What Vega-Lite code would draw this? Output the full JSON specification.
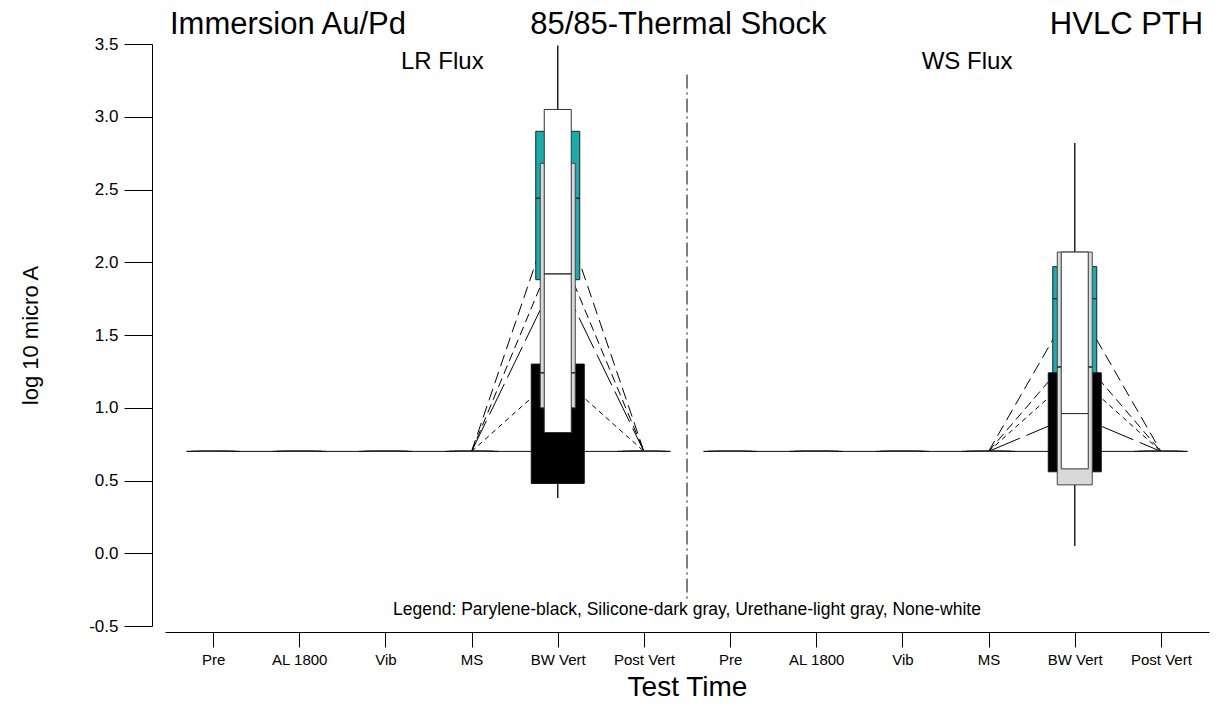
{
  "$schema": "https://vega.github.io/schema/vega-lite/v6.json",
  "width": 1044,
  "height": 582,
  "autosize": {"type": "none"},
  "padding": {"left": 165, "top": 44, "right": 8, "bottom": 89},
  "background": "white",
  "config": {
    "font": "Liberation Sans",
    "view": {"stroke": null},
    "axis": {"grid": false, "domainColor": "black", "tickColor": "black", "labelColor": "black", "titleColor": "black", "titleFontWeight": "normal", "labelFont": "Liberation Sans", "titleFont": "Liberation Sans"}
  },
  "datasets": {
    "boxes": [
      {"t": 1, "coat": "Parylene", "q1": 0.7, "med": 0.7, "q3": 0.7, "lo": 0.7, "hi": 0.7},
      {"t": 1, "coat": "Silicone", "q1": 0.7, "med": 0.7, "q3": 0.7, "lo": 0.7, "hi": 0.7},
      {"t": 1, "coat": "Urethane", "q1": 0.7, "med": 0.7, "q3": 0.7, "lo": 0.7, "hi": 0.7},
      {"t": 1, "coat": "None", "q1": 0.7, "med": 0.7, "q3": 0.7, "lo": 0.7, "hi": 0.7},
      {"t": 2, "coat": "Parylene", "q1": 0.7, "med": 0.7, "q3": 0.7, "lo": 0.7, "hi": 0.7},
      {"t": 2, "coat": "Silicone", "q1": 0.7, "med": 0.7, "q3": 0.7, "lo": 0.7, "hi": 0.7},
      {"t": 2, "coat": "Urethane", "q1": 0.7, "med": 0.7, "q3": 0.7, "lo": 0.7, "hi": 0.7},
      {"t": 2, "coat": "None", "q1": 0.7, "med": 0.7, "q3": 0.7, "lo": 0.7, "hi": 0.7},
      {"t": 3, "coat": "Parylene", "q1": 0.7, "med": 0.7, "q3": 0.7, "lo": 0.7, "hi": 0.7},
      {"t": 3, "coat": "Silicone", "q1": 0.7, "med": 0.7, "q3": 0.7, "lo": 0.7, "hi": 0.7},
      {"t": 3, "coat": "Urethane", "q1": 0.7, "med": 0.7, "q3": 0.7, "lo": 0.7, "hi": 0.7},
      {"t": 3, "coat": "None", "q1": 0.7, "med": 0.7, "q3": 0.7, "lo": 0.7, "hi": 0.7},
      {"t": 4, "coat": "Parylene", "q1": 0.7, "med": 0.7, "q3": 0.7, "lo": 0.7, "hi": 0.7},
      {"t": 4, "coat": "Silicone", "q1": 0.7, "med": 0.7, "q3": 0.7, "lo": 0.7, "hi": 0.7},
      {"t": 4, "coat": "Urethane", "q1": 0.7, "med": 0.7, "q3": 0.7, "lo": 0.7, "hi": 0.7},
      {"t": 4, "coat": "None", "q1": 0.7, "med": 0.7, "q3": 0.7, "lo": 0.7, "hi": 0.7},
      {"t": 5, "coat": "Parylene", "q1": 0.48, "med": 0.7, "q3": 1.30, "lo": 0.38, "hi": 1.30},
      {"t": 5, "coat": "Silicone", "q1": 1.88, "med": 2.44, "q3": 2.90, "lo": 1.88, "hi": 2.90},
      {"t": 5, "coat": "Urethane", "q1": 1.00, "med": 1.24, "q3": 2.68, "lo": 1.00, "hi": 2.68},
      {"t": 5, "coat": "None", "q1": 0.83, "med": 1.92, "q3": 3.05, "lo": 0.83, "hi": 3.49},
      {"t": 6, "coat": "Parylene", "q1": 0.7, "med": 0.7, "q3": 0.7, "lo": 0.7, "hi": 0.7},
      {"t": 6, "coat": "Silicone", "q1": 0.7, "med": 0.7, "q3": 0.7, "lo": 0.7, "hi": 0.7},
      {"t": 6, "coat": "Urethane", "q1": 0.7, "med": 0.7, "q3": 0.7, "lo": 0.7, "hi": 0.7},
      {"t": 6, "coat": "None", "q1": 0.7, "med": 0.7, "q3": 0.7, "lo": 0.7, "hi": 0.7},
      {"t": 7, "coat": "Parylene", "q1": 0.7, "med": 0.7, "q3": 0.7, "lo": 0.7, "hi": 0.7},
      {"t": 7, "coat": "Silicone", "q1": 0.7, "med": 0.7, "q3": 0.7, "lo": 0.7, "hi": 0.7},
      {"t": 7, "coat": "Urethane", "q1": 0.7, "med": 0.7, "q3": 0.7, "lo": 0.7, "hi": 0.7},
      {"t": 7, "coat": "None", "q1": 0.7, "med": 0.7, "q3": 0.7, "lo": 0.7, "hi": 0.7},
      {"t": 8, "coat": "Parylene", "q1": 0.7, "med": 0.7, "q3": 0.7, "lo": 0.7, "hi": 0.7},
      {"t": 8, "coat": "Silicone", "q1": 0.7, "med": 0.7, "q3": 0.7, "lo": 0.7, "hi": 0.7},
      {"t": 8, "coat": "Urethane", "q1": 0.7, "med": 0.7, "q3": 0.7, "lo": 0.7, "hi": 0.7},
      {"t": 8, "coat": "None", "q1": 0.7, "med": 0.7, "q3": 0.7, "lo": 0.7, "hi": 0.7},
      {"t": 9, "coat": "Parylene", "q1": 0.7, "med": 0.7, "q3": 0.7, "lo": 0.7, "hi": 0.7},
      {"t": 9, "coat": "Silicone", "q1": 0.7, "med": 0.7, "q3": 0.7, "lo": 0.7, "hi": 0.7},
      {"t": 9, "coat": "Urethane", "q1": 0.7, "med": 0.7, "q3": 0.7, "lo": 0.7, "hi": 0.7},
      {"t": 9, "coat": "None", "q1": 0.7, "med": 0.7, "q3": 0.7, "lo": 0.7, "hi": 0.7},
      {"t": 10, "coat": "Parylene", "q1": 0.7, "med": 0.7, "q3": 0.7, "lo": 0.7, "hi": 0.7},
      {"t": 10, "coat": "Silicone", "q1": 0.7, "med": 0.7, "q3": 0.7, "lo": 0.7, "hi": 0.7},
      {"t": 10, "coat": "Urethane", "q1": 0.7, "med": 0.7, "q3": 0.7, "lo": 0.7, "hi": 0.7},
      {"t": 10, "coat": "None", "q1": 0.7, "med": 0.7, "q3": 0.7, "lo": 0.7, "hi": 0.7},
      {"t": 11, "coat": "Parylene", "q1": 0.56, "med": 0.7, "q3": 1.24, "lo": 0.56, "hi": 1.24},
      {"t": 11, "coat": "Silicone", "q1": 1.15, "med": 1.75, "q3": 1.97, "lo": 1.15, "hi": 1.97},
      {"t": 11, "coat": "Urethane", "q1": 0.47, "med": 1.28, "q3": 2.07, "lo": 0.05, "hi": 2.07},
      {"t": 11, "coat": "None", "q1": 0.58, "med": 0.96, "q3": 2.07, "lo": 0.58, "hi": 2.82},
      {"t": 12, "coat": "Parylene", "q1": 0.7, "med": 0.7, "q3": 0.7, "lo": 0.7, "hi": 0.7},
      {"t": 12, "coat": "Silicone", "q1": 0.7, "med": 0.7, "q3": 0.7, "lo": 0.7, "hi": 0.7},
      {"t": 12, "coat": "Urethane", "q1": 0.7, "med": 0.7, "q3": 0.7, "lo": 0.7, "hi": 0.7},
      {"t": 12, "coat": "None", "q1": 0.7, "med": 0.7, "q3": 0.7, "lo": 0.7, "hi": 0.7}
    ],
    "lines": [
      {"t": 1, "panel": "LR", "series": "Parylene", "v": 0.7},
      {"t": 6, "panel": "LR", "series": "Parylene", "v": 0.7},
      {"t": 7, "panel": "WS", "series": "Parylene", "v": 0.7},
      {"t": 12, "panel": "WS", "series": "Parylene", "v": 0.7},
      {"t": 4, "panel": "LR", "series": "Silicone", "v": 0.7},
      {"t": 5, "panel": "LR", "series": "Silicone", "v": 2.44},
      {"t": 6, "panel": "LR", "series": "Silicone", "v": 0.7},
      {"t": 10, "panel": "WS", "series": "Silicone", "v": 0.7},
      {"t": 11, "panel": "WS", "series": "Silicone", "v": 1.73},
      {"t": 12, "panel": "WS", "series": "Silicone", "v": 0.7},
      {"t": 4, "panel": "LR", "series": "None mean", "v": 0.7},
      {"t": 5, "panel": "LR", "series": "None mean", "v": 2.12},
      {"t": 6, "panel": "LR", "series": "None mean", "v": 0.7},
      {"t": 10, "panel": "WS", "series": "None mean", "v": 0.7},
      {"t": 11, "panel": "WS", "series": "None mean", "v": 1.39},
      {"t": 12, "panel": "WS", "series": "None mean", "v": 0.7},
      {"t": 4, "panel": "LR", "series": "None", "v": 0.7},
      {"t": 5, "panel": "LR", "series": "None", "v": 1.92},
      {"t": 6, "panel": "LR", "series": "None", "v": 0.7},
      {"t": 10, "panel": "WS", "series": "None", "v": 0.7},
      {"t": 11, "panel": "WS", "series": "None", "v": 0.95},
      {"t": 12, "panel": "WS", "series": "None", "v": 0.7},
      {"t": 4, "panel": "LR", "series": "Urethane", "v": 0.7},
      {"t": 5, "panel": "LR", "series": "Urethane", "v": 1.23},
      {"t": 6, "panel": "LR", "series": "Urethane", "v": 0.7},
      {"t": 10, "panel": "WS", "series": "Urethane", "v": 0.7},
      {"t": 11, "panel": "WS", "series": "Urethane", "v": 1.23},
      {"t": 12, "panel": "WS", "series": "Urethane", "v": 0.7}
    ],
    "notes": [
      {"x": 0.5, "y": 3.57, "text": "Immersion Au/Pd", "kind": "big-left"},
      {"x": 6.4, "y": 3.57, "text": "85/85-Thermal Shock", "kind": "big-center"},
      {"x": 12.49, "y": 3.57, "text": "HVLC PTH", "kind": "big-right"},
      {"x": 3.66, "y": 3.33, "text": "LR Flux", "kind": "mid"},
      {"x": 9.75, "y": 3.33, "text": "WS Flux", "kind": "mid"},
      {"x": 6.5, "y": -0.39, "text": "Legend: Parylene-black, Silicone-dark gray, Urethane-light gray, None-white", "kind": "small"}
    ],
    "sep": [{"x": 6.5, "y": 3.29, "y2": -0.32}]
  },
  "encoding": {
    "x": {"field": "t", "type": "quantitative", "scale": {"domain": [0.5, 12.5], "nice": false, "zero": false},
      "axis": {"values": [1,2,3,4,5,6,7,8,9,10,11,12], "labelExpr": "['','Pre','AL 1800','Vib','MS','BW Vert','Post Vert','Pre','AL 1800','Vib','MS','BW Vert','Post Vert'][datum.value]", "offset": 6, "tickSize": 15, "labelFontSize": 15, "labelPadding": 5, "title": "Test Time", "titleFontSize": 28, "titlePadding": 6, "labelFlush": false, "labelOverlap": false}},
    "y": {"type": "quantitative", "scale": {"domain": [-0.5, 3.5], "nice": false, "zero": false},
      "axis": {"values": [-0.5,0,0.5,1,1.5,2,2.5,3,3.5], "labelExpr": "replace(format(datum.value, '.1f'), '\u2212', '-')", "offset": 13, "tickSize": 28, "labelFontSize": 17, "labelPadding": 6, "title": "log 10 micro A", "titleFontSize": 22, "titlePadding": 46, "labelFlush": false}}
  },
  "layer": [
    {
      "data": {"name": "sep"},
      "mark": {"type": "rule", "color": "black", "strokeWidth": 1, "strokeDash": [14, 4, 2, 4]},
      "encoding": {"x": {"field": "x", "type": "quantitative"}, "y": {"field": "y", "type": "quantitative"}, "y2": {"field": "y2"}}
    },
    {
      "data": {"name": "lines"},
      "mark": {"type": "line", "color": "black", "strokeWidth": 1},
      "encoding": {
        "y": {"field": "v", "type": "quantitative"},
        "detail": {"field": "panel"},
        "order": {"field": "t"},
        "strokeDash": {"field": "series", "type": "nominal", "legend": null,
          "scale": {"domain": ["Parylene", "Silicone", "None mean", "None", "Urethane"], "range": [[1, 0], [12, 6], [9, 5], [34, 7], [5, 4]]}}
      }
    },
    {
      "data": {"name": "boxes"},
      "transform": [{"filter": "datum.hi > datum.lo"}],
      "mark": {"type": "rule", "color": "#222222", "strokeWidth": 1.5},
      "encoding": {"y": {"field": "lo", "type": "quantitative"}, "y2": {"field": "hi"}}
    },
    {
      "data": {"name": "boxes"},
      "transform": [{"filter": "datum.coat == 'Silicone'"}],
      "mark": {"type": "bar", "width": 44, "fill": "#17adac", "stroke": "#222222", "strokeWidth": 1},
      "encoding": {"y": {"field": "q1", "type": "quantitative"}, "y2": {"field": "q3"}}
    },
    {
      "data": {"name": "boxes"},
      "transform": [{"filter": "datum.coat == 'Silicone'"}],
      "mark": {"type": "bar", "width": 44, "fill": "#17adac", "stroke": "#222222", "strokeWidth": 1},
      "encoding": {"y": {"field": "med", "type": "quantitative"}, "y2": {"field": "med"}}
    },
    {
      "data": {"name": "boxes"},
      "transform": [{"filter": "datum.coat == 'Parylene'"}],
      "mark": {"type": "bar", "width": 53, "fill": "black", "stroke": "#111111", "strokeWidth": 1},
      "encoding": {"y": {"field": "q1", "type": "quantitative"}, "y2": {"field": "q3"}}
    },
    {
      "data": {"name": "boxes"},
      "transform": [{"filter": "datum.coat == 'Urethane'"}],
      "mark": {"type": "bar", "width": 35, "fill": "#d9d9d9", "stroke": "#444444", "strokeWidth": 1},
      "encoding": {"y": {"field": "q1", "type": "quantitative"}, "y2": {"field": "q3"}}
    },
    {
      "data": {"name": "boxes"},
      "transform": [{"filter": "datum.coat == 'Urethane'"}],
      "mark": {"type": "bar", "width": 35, "fill": "#d9d9d9", "stroke": "#222222", "strokeWidth": 1},
      "encoding": {"y": {"field": "med", "type": "quantitative"}, "y2": {"field": "med"}}
    },
    {
      "data": {"name": "boxes"},
      "transform": [{"filter": "datum.coat == 'None'"}],
      "mark": {"type": "bar", "width": 27, "fill": "white", "stroke": "#333333", "strokeWidth": 1},
      "encoding": {"y": {"field": "q1", "type": "quantitative"}, "y2": {"field": "q3"}}
    },
    {
      "data": {"name": "boxes"},
      "transform": [{"filter": "datum.coat == 'None'"}],
      "mark": {"type": "bar", "width": 27, "fill": "white", "stroke": "#333333", "strokeWidth": 1},
      "encoding": {"y": {"field": "med", "type": "quantitative"}, "y2": {"field": "med"}}
    },
    {
      "data": {"name": "notes"},
      "transform": [{"filter": "datum.kind == 'big-left'"}],
      "mark": {"type": "text", "fontSize": 31, "color": "black", "baseline": "alphabetic", "align": "left"},
      "encoding": {"x": {"field": "x", "type": "quantitative"}, "y": {"field": "y", "type": "quantitative"}, "text": {"field": "text"}}
    },
    {
      "data": {"name": "notes"},
      "transform": [{"filter": "datum.kind == 'big-center'"}],
      "mark": {"type": "text", "fontSize": 31, "color": "black", "baseline": "alphabetic", "align": "center"},
      "encoding": {"x": {"field": "x", "type": "quantitative"}, "y": {"field": "y", "type": "quantitative"}, "text": {"field": "text"}}
    },
    {
      "data": {"name": "notes"},
      "transform": [{"filter": "datum.kind == 'big-right'"}],
      "mark": {"type": "text", "fontSize": 31, "color": "black", "baseline": "alphabetic", "align": "right"},
      "encoding": {"x": {"field": "x", "type": "quantitative"}, "y": {"field": "y", "type": "quantitative"}, "text": {"field": "text"}}
    },
    {
      "data": {"name": "notes"},
      "transform": [{"filter": "datum.kind == 'mid'"}],
      "mark": {"type": "text", "fontSize": 24, "color": "black", "baseline": "alphabetic"},
      "encoding": {"x": {"field": "x", "type": "quantitative"}, "y": {"field": "y", "type": "quantitative"}, "text": {"field": "text"}}
    },
    {
      "data": {"name": "notes"},
      "transform": [{"filter": "datum.kind == 'small'"}],
      "mark": {"type": "text", "fontSize": 17.5, "color": "black", "baseline": "middle"},
      "encoding": {"x": {"field": "x", "type": "quantitative"}, "y": {"field": "y", "type": "quantitative"}, "text": {"field": "text"}}
    }
  ]
}
